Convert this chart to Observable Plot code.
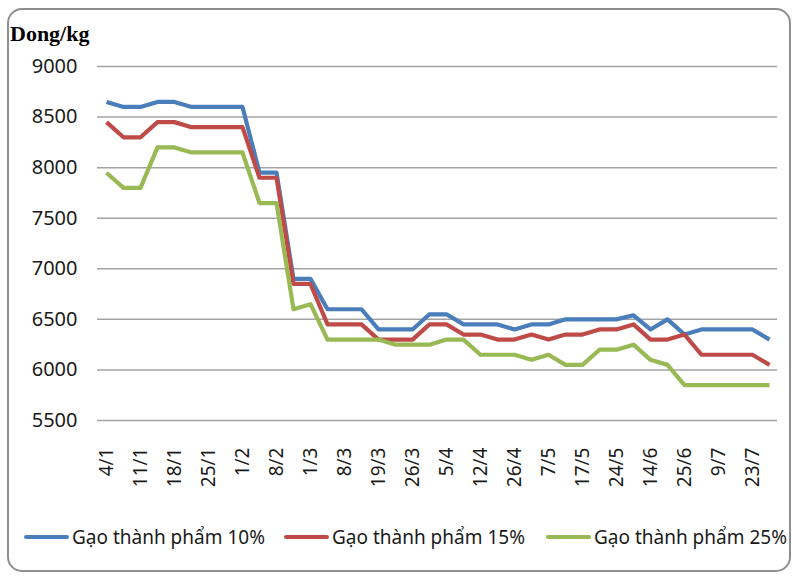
<!DOCTYPE html>
<html>
<head>
<meta charset="utf-8">
<script src="https://cdn.jsdelivr.net/npm/d3@7"></script>
<script src="https://cdn.jsdelivr.net/npm/@observablehq/plot@0.6"></script>
<style>
  html, body { margin: 0; padding: 0; background: #fff; }
  #wrap { position: relative; width: 792px; height: 577px; overflow: hidden; font-family: "Noto Sans", sans-serif; }
  #frame { position: absolute; left: 7px; top: 8px; width: 784px; height: 564px; box-sizing: border-box;
           border: 2px solid #8e8e8e; border-radius: 15px; }
  #title { position: absolute; left: 10px; top: 23px; font-family: "Liberation Serif", serif; font-weight: bold;
           font-size: 22px; line-height: 22px; color: #000; }
  #chart { position: absolute; left: 0; top: 0; }
  .leg { position: absolute; top: 525px; height: 24px; display: flex; align-items: center; font-size: 19px; color: #1a1a1a; white-space: nowrap; }
  .leg .sw { width: 45px; height: 4px; margin-right: 3px; border-radius: 2px; }
</style>
</head>
<body>
<div id="wrap">
  <div id="frame"></div>
  <div id="chart"></div>
  <div id="title">Dong/kg</div>
  <div id="legend"></div>
</div>
<script>
const dates = ["4/1","7/1","11/1","14/1","18/1","21/1","25/1","28/1","1/2","4/2",
               "8/2","22/2","1/3","4/3","8/3","15/3","19/3","22/3","26/3","29/3",
               "5/4","8/4","12/4","19/4","26/4","3/5","7/5","10/5","17/5","20/5",
               "24/5","31/5","14/6","21/6","25/6","5/7","9/7","16/7","23/7","30/7"];
const tickLabels = ["4/1","11/1","18/1","25/1","1/2","8/2","1/3","8/3","19/3","26/3",
                    "5/4","12/4","26/4","7/5","17/5","24/5","14/6","25/6","9/7","23/7"];
const yTicks = [5500, 6000, 6500, 7000, 7500, 8000, 8500, 9000];
const seriesNames = ["Gạo thành phẩm 10%", "Gạo thành phẩm 15%", "Gạo thành phẩm 25%"];
const seriesColors = ["#4a7ebb", "#be4b48", "#98b954"];

const rice10 = [8650,8600,8600,8650,8650,8600,8600,8600,8600,7950,
                7950,6900,6900,6600,6600,6600,6400,6400,6400,6550,
                6550,6450,6450,6450,6400,6450,6450,6500,6500,6500,
                6500,6540,6400,6500,6350,6400,6400,6400,6400,6300];
const rice15 = [8450,8300,8300,8450,8450,8400,8400,8400,8400,7900,
                7900,6850,6850,6450,6450,6450,6300,6300,6300,6450,
                6450,6350,6350,6300,6300,6350,6300,6350,6350,6400,
                6400,6450,6300,6300,6350,6150,6150,6150,6150,6050];
const rice25 = [7950,7800,7800,8200,8200,8150,8150,8150,8150,7650,
                7650,6600,6650,6300,6300,6300,6300,6250,6250,6250,
                6300,6300,6150,6150,6150,6100,6150,6050,6050,6200,
                6200,6250,6100,6050,5850,5850,5850,5850,5850,5850];

const allSeries = [rice10, rice15, rice25];
const data = [];
allSeries.forEach((vals, s) => vals.forEach((v, i) => data.push({date: dates[i], value: v, series: seriesNames[s]})));

const chart = Plot.plot({
  width: 792,
  height: 500,
  marginLeft: 97,
  marginRight: 15,
  marginTop: 66,
  marginBottom: 80,
  style: {background: "transparent", fontFamily: "Noto Sans, sans-serif", color: "#1a1a1a", overflow: "visible"},
  x: {type: "point", domain: dates, padding: 0.5},
  y: {domain: [5500, 9000]},
  color: {domain: seriesNames, range: seriesColors},
  marks: [
    Plot.ruleY(yTicks, {stroke: "#a3a3a3", strokeWidth: 1.5}),
    Plot.axisY(yTicks, {tickSize: 0, tickPadding: 20, fontSize: 20, label: null, tickFormat: d => String(d)}),
    Plot.axisX(tickLabels, {tickSize: 0, tickPadding: 27, tickRotate: -90, fontSize: 19, label: null}),
    Plot.line(data, {x: "date", y: "value", z: "series", stroke: "series", strokeWidth: 4.2, strokeLinejoin: "round", strokeLinecap: "butt"})
  ]
});
document.getElementById("chart").appendChild(chart);

const legend = document.getElementById("legend");
const legendLeft = [24, 284, 546];
seriesNames.forEach((name, i) => {
  const item = document.createElement("div");
  item.className = "leg";
  item.style.left = legendLeft[i] + "px";
  const sw = document.createElement("div");
  sw.className = "sw";
  sw.style.background = seriesColors[i];
  const t = document.createElement("span");
  t.textContent = name;
  item.appendChild(sw);
  item.appendChild(t);
  legend.appendChild(item);
});
</script>
</body>
</html>
